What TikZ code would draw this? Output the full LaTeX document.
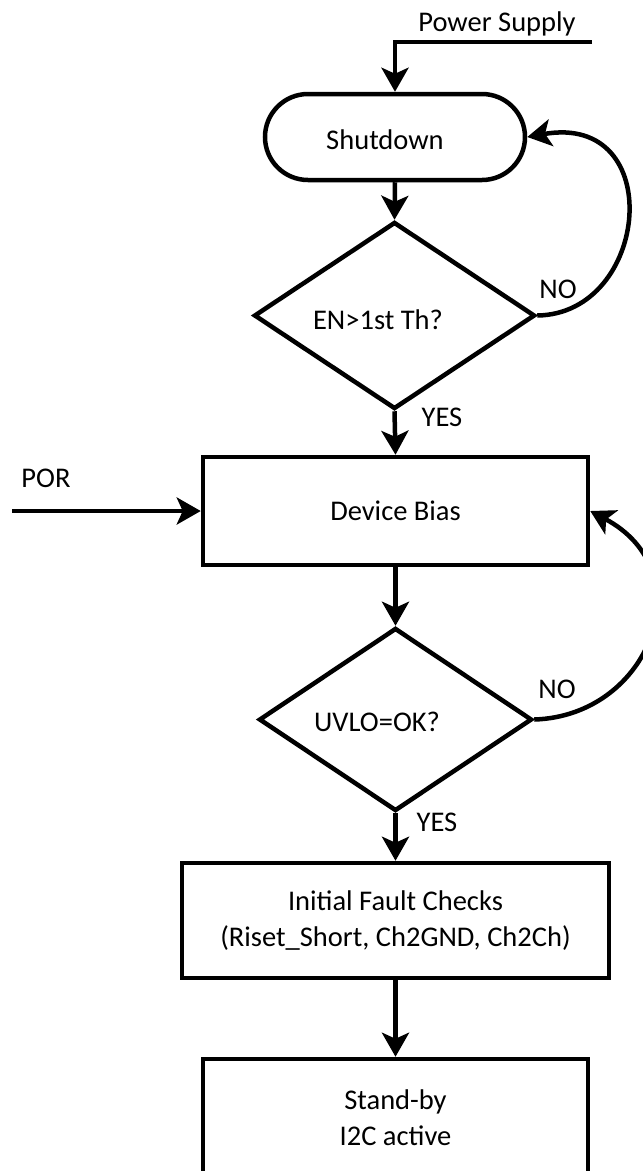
\documentclass[tikz,border=0pt]{standalone}
\usepackage{fontspec}
\setmainfont{Carlito}
\usetikzlibrary{arrows.meta,shapes.geometric,shapes.misc}
\begin{document}
\begin{tikzpicture}[x=1pt,y=-1pt,
  every node/.style={font=\fontsize{28.5}{36}\selectfont},
  ln/.style={line width=4.5pt},
  arr/.style={ln,-{Stealth[length=24pt,width=27pt,inset=6pt]}},
  procbox/.style={draw,ln,rectangle,inner sep=0pt,align=center},
  termbox/.style={draw,ln,rounded rectangle,inner sep=0pt,minimum width=260pt,minimum height=86pt},
  decbox/.style={draw,ln,diamond,inner sep=0pt},
  lbl/.style={inner sep=0pt}
]
\useasboundingbox (0,0) rectangle (643,1171);
\clip (0,0) rectangle (643,1171);

\node[termbox] (shut) at (395,137) {};
\node[lbl] (shutT) at (385,140) {Shutdown};

\node[decbox,minimum width=281pt,minimum height=187pt] (d1) at (394.5,315.5) {};
\node[lbl] (d1T) at (378,320) {EN>1st Th?};

\node[procbox,minimum width=385pt,minimum height=108pt] (bias) at (395.5,511) {Device Bias};

\node[decbox,minimum width=273pt,minimum height=183pt] (d2) at (395.5,719.5) {};
\node[lbl] (d2T) at (377,722) {UVLO=OK?};

\node[procbox,minimum width=427pt,minimum height=115pt] (init) at (395.5,920.5)
  {Initial Fault Checks\\(Riset\_Short, Ch2GND, Ch2Ch)};

\node[procbox,minimum width=385pt,minimum height=128pt] (stby) at (395.5,1123) {};
\node[lbl,align=center] (stbyT) at (395.5,1118) {Stand-by\\I2C active};

% Power supply
\coordinate (ps) at (592,42);
\draw[arr] (ps) -- (395,42) -- (shut.north);
\node[lbl] (psT) at (497,24) {Power Supply};

% POR
\coordinate (por) at (12,511);
\draw[arr] (por) -- (bias.west);
\node[lbl] (porT) at (46,478) {POR};

% main flow
\draw[arr] (shut.south) -- (d1.north);
\draw[arr] (d1.south) -- (bias.north);
\draw[arr] (bias.south) -- (d2.north);
\draw[arr] (d2.south) -- (init.north);
\draw[arr] (init.south) -- (stby.north);

% NO loops
\draw[arr] (d1.east) .. controls (650,314) and (668,112) .. (shut.east);
\draw[arr] (d2.east) .. controls (650,716) and (705,572) .. (bias.east);

\node[lbl] (no1) at (558,289) {NO};
\node[lbl] (no2) at (557,689) {NO};
\node[lbl] (yes1) at (442,417) {YES};
\node[lbl] (yes2) at (437,822) {YES};
\end{tikzpicture}
\end{document}
